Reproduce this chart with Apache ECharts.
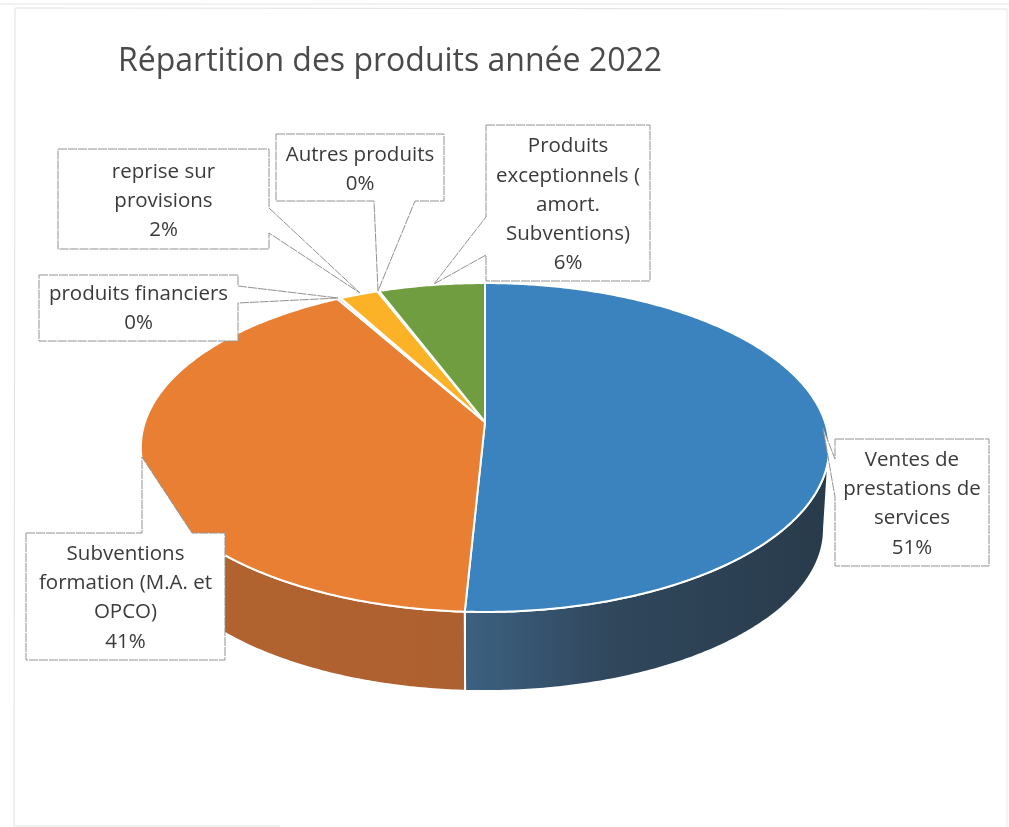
<!DOCTYPE html>
<html>
<head>
<meta charset="utf-8">
<style>html,body{margin:0;padding:0;background:#fff}#c{width:1009px;height:827px}</style>
<script src="https://cdn.jsdelivr.net/npm/echarts@6/dist/echarts.min.js"></script>
</head>
<body>
<div id="c"></div>
<script>
const titleText = 'Répartition des produits année 2022';
const categories = ['Ventes de\nprestations de\nservices','Subventions\nformation (M.A. et\nOPCO)','produits financiers','reprise sur\nprovisions','Autres produits','Produits\nexceptionnels (\namort.\nSubventions)'];
const values = [50.8, 41.0, 0.2, 2.1, 0.1, 5.8];
const percentLabels = ['51%','41%','0%','2%','0%','6%'];
const topColors = ['#3a83bf','#e87f33','#d9d9d9','#fbb227','#8c8c8c','#6f9d40'];
const sideStops = [['#283b4b','#30475c','#3d6182'],['#ae6130','#b0622f','#b4652f']];

// tilted-disc projection
const apex = {x:485, y:422}, radX = 340, radY = 160.5, persp = 0.155, depth = 82, lowerScale = 0.985;
function rim(theta, lower){
  const sx = Math.sin(theta), sy = -Math.cos(theta), w = 1 - persp*sy, s = lower ? lowerScale : 1;
  return [apex.x + s*radX*sx/w, apex.y + s*radY*sy/w + (lower ? depth : 0)];
}
const total = values.reduce((a,b)=>a+b,0);
const thetaRight = Math.acos(-persp), thetaLeft = 2*Math.PI - thetaRight; // silhouette of the disc
function sliceAngles(i){
  let acc = 0; for (let k=0;k<i;k++) acc += values[k];
  return [acc/total*2*Math.PI, (acc+values[i])/total*2*Math.PI];
}
function arc(a0,a1,lower){
  const n = Math.max(2,Math.ceil((a1-a0)/0.01)), pts=[];
  for(let j=0;j<=n;j++) pts.push(rim(a0+(a1-a0)*j/n,lower));
  return pts;
}
// callout layout: box [x0,y0,x1,y1], which side the pointer leaves, base points and tip
const callouts = [
 {box:[835,439,989,566], side:'left',  base:[497,459], tip:[823,428], textY:504},
 {box:[26,533,225,660],  side:'top',   base:[142,192], tip:[142,457], textY:598},
 {box:[39,275,238,341],  side:'right', base:[286,303], tip:[338,298], textY:309},
 {box:[58,149,269,249],  side:'right', base:[208,233], tip:[360,293], textY:201},
 {box:[276,134,444,201], side:'bottom',base:[415,374], tip:[378,291], textY:170},
 {box:[486,125,650,281], side:'left',  base:[255,217], tip:[434,284], textY:205}
];
function calloutPoints(c){
  const [x0,y0,x1,y1]=c.box, [b0,b1]=c.base, t=c.tip;
  if(c.side==='right') return [[x0,y0],[x1,y0],[x1,b0],t,[x1,b1],[x1,y1],[x0,y1]];
  if(c.side==='left')  return [[x0,y0],[x1,y0],[x1,y1],[x0,y1],[x0,b0],t,[x0,b1]];
  if(c.side==='top')   return [[x0,y0],[b0,y0],t,[b1,y0],[x1,y0],[x1,y1],[x0,y1]];
  return [[x0,y0],[x1,y0],[x1,y1],[b0,y1],t,[b1,y1],[x0,y1]];
}
const chart = echarts.init(document.getElementById('c'),null,{renderer:'canvas'});
const fontFamily = '"Open Sans"';
chart.setOption({
  animation:false,
  backgroundColor:'#ffffff',
  title:{text:titleText,left:113,top:41,textStyle:{fontFamily,fontSize:32,fontWeight:'normal',color:'#4a4a4a'}},
  graphic:[
    {type:'polyline',silent:true,shape:{points:[[0,4],[1009,4]]},style:{stroke:'#e4e4e4',lineWidth:1}},
    {type:'polyline',silent:true,shape:{points:[[1007,9],[15,8],[14,826],[280,826]]},style:{stroke:'#e2e2e2',lineWidth:1,fill:null}},
    {type:'polyline',silent:true,shape:{points:[[1007,9],[1007,827]]},style:{stroke:'#e8e8e8',lineWidth:1}}
  ],
  series:[
    {type:'custom',coordinateSystem:'none',z:2,silent:true,data:values,
     renderItem(p){
       const [s0,s1]=sliceAngles(p.dataIndex);
       const a0=Math.max(s0,thetaRight), a1=Math.min(s1,thetaLeft);
       if(a0>=a1) return null;
       const pts=arc(a0,a1,false).concat(arc(a0,a1,true).reverse());
       const st=sideStops[p.dataIndex];
       return {type:'polygon',shape:{points:pts},style:{
         fill:new echarts.graphic.LinearGradient(1,0,0,0,[{offset:0,color:st[0]},{offset:0.6,color:st[1]},{offset:1,color:st[2]}]),
         stroke:'#fff',lineWidth:2,lineJoin:'round'}};
     }},
    {type:'custom',coordinateSystem:'none',z:3,silent:true,data:values,
     renderItem(p){
       const [a0,a1]=sliceAngles(p.dataIndex);
       const pts=[[apex.x,apex.y]].concat(arc(a0,a1,false));
       return {type:'polygon',shape:{points:pts},style:{fill:topColors[p.dataIndex],stroke:'#fff',lineWidth:2,lineJoin:'round'}};
     }},
    {type:'custom',coordinateSystem:'none',z:4,silent:true,data:values,
     renderItem(p){
       const i=p.dataIndex,c=callouts[i];
       return {type:'group',children:[
         {type:'polygon',shape:{points:calloutPoints(c)},style:{fill:'#fff',stroke:'#929292',lineWidth:1,lineDash:[9,1]}},
         {type:'text',style:{x:(c.box[0]+c.box[2])/2,y:c.textY,text:categories[i]+'\n'+percentLabels[i],
           textAlign:'center',textVerticalAlign:'middle',fill:'#3a3a3a',
           font:'20.5px "Open Sans"',lineHeight:29.3}}
       ]};
     }}
  ]
});
</script>
</body>
</html>
